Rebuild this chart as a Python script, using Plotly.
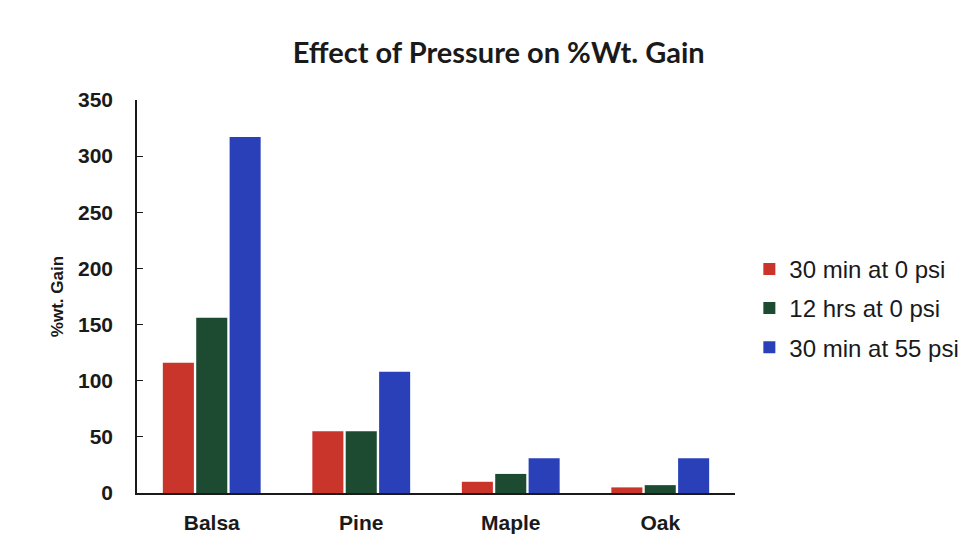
import plotly.graph_objects as go

# Wood species and % weight gain for each soaking condition
species = ["Balsa", "Pine", "Maple", "Oak"]
gain_30min_0psi = [116, 55, 10, 5]
gain_12hrs_0psi = [156, 55, 17, 7]
gain_30min_55psi = [317, 108, 31, 31]

series_names = ["30 min at 0 psi", "12 hrs at 0 psi", "30 min at 55 psi"]
series_colors = ["#c9352a", "#1d4b31", "#2a40b9"]
y_ticks = [0, 50, 100, 150, 200, 250, 300, 350]

AXIS_FONT = "Liberation Sans, Arial"
INK = "#1a1a1a"

fig = go.Figure()
for i, (name, values, color) in enumerate(zip(
        series_names,
        [gain_30min_0psi, gain_12hrs_0psi, gain_30min_55psi],
        series_colors)):
    fig.add_trace(go.Bar(x=species, y=values, name=name, legendgroup=f"g{i}",
                         marker=dict(color=color, line=dict(width=0))))

fig.update_layout(
    width=974, height=535,
    paper_bgcolor="white", plot_bgcolor="white",
    margin=dict(l=137, r=239, t=100, b=42, autoexpand=False),
    barmode="group", bargap=0.33, bargroupgap=0.07,
    title=dict(text="<b>Effect of Pressure on %Wt. Gain</b>",
               font=dict(family="Lato", size=29, color=INK),
               x=0.512, xanchor="center", y=0.902, yanchor="middle"),
    legend=dict(x=1.024, y=0.47, xanchor="left", yanchor="middle",
                font=dict(family=AXIS_FONT, size=24, color=INK),
                itemsizing="constant", tracegroupgap=5, itemwidth=30,
                traceorder="grouped", bgcolor="rgba(0,0,0,0)"),
    font=dict(family=AXIS_FONT, color=INK),
)

fig.update_xaxes(showline=True, linecolor=INK, linewidth=1.5,
                 ticks="", showgrid=False, zeroline=False, automargin=False,
                 tickmode="array", tickvals=species,
                 ticktext=[f"<b>{s}</b>" for s in species],
                 tickfont=dict(family=AXIS_FONT, size=21, color=INK),
                 ticklabelstandoff=10)
fig.update_yaxes(range=[0, 350], tickmode="array", tickvals=y_ticks,
                 ticktext=[f"<b>{v}</b>" for v in y_ticks],
                 showline=True, linecolor=INK, linewidth=1.5, automargin=False,
                 ticks="inside", ticklen=6, tickwidth=1.2, tickcolor=INK,
                 showgrid=False, zeroline=False,
                 tickfont=dict(family=AXIS_FONT, size=21, color=INK),
                 ticklabelstandoff=18,
                 title=dict(text="<b>%wt. Gain</b>", standoff=10,
                            font=dict(family=AXIS_FONT, size=17, color=INK)))

fig.write_html("out.html")
